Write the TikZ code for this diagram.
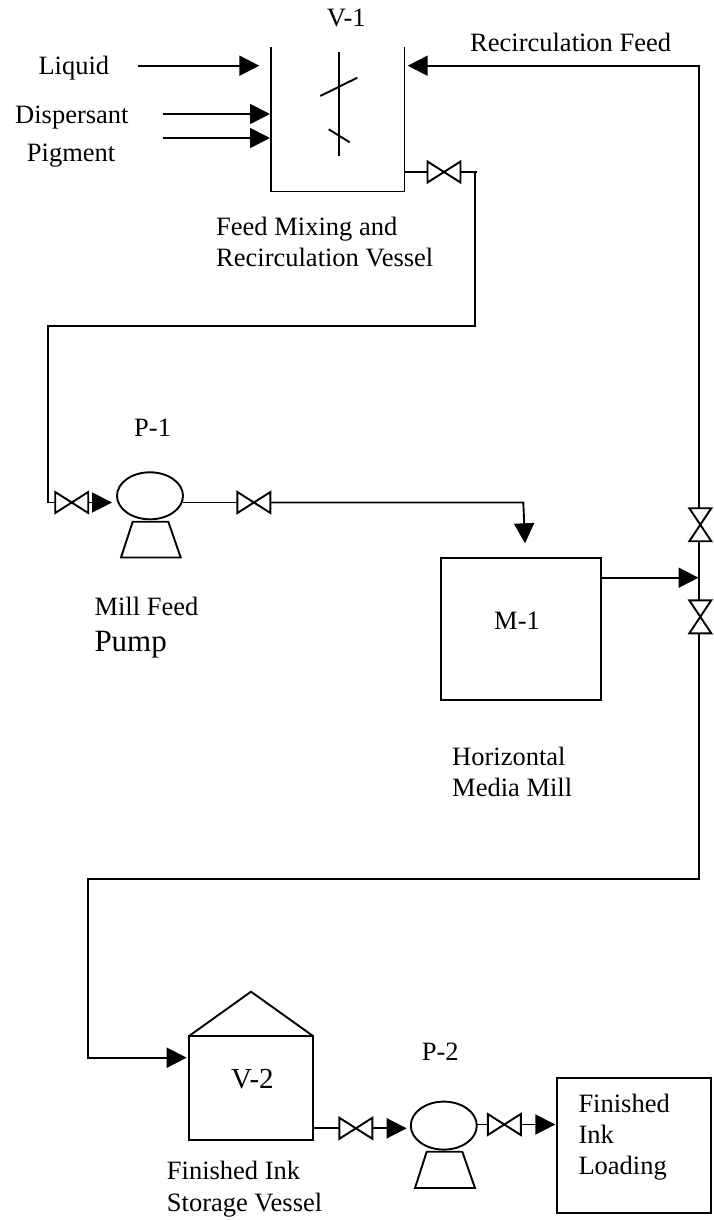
\documentclass[tikz,border=0pt]{standalone}
\usepackage{fontspec}
\setmainfont{Liberation Serif}
\usetikzlibrary{arrows.meta,shapes.geometric}
\tikzset{
  pipe/.style={draw=black,line width=1.9pt,line join=miter},
  flow/.style={pipe,-{Triangle[length=20pt,width=20pt]}},
  lab/.style={anchor=base west,inner sep=0pt,font=\fontsize{26.5}{30}\selectfont},
  labbig/.style={anchor=base west,inner sep=0pt,font=\fontsize{31}{34}\selectfont},
  labmid/.style={anchor=base west,inner sep=0pt,font=\fontsize{29}{32}\selectfont},
  valvebox/.style={inner sep=0pt,outer sep=0pt,minimum width=33pt,minimum height=21pt},
  valveboxv/.style={inner sep=0pt,outer sep=0pt,minimum width=22pt,minimum height=33pt},
  pumpbody/.style={ellipse,pipe,inner sep=0pt,outer sep=0pt,minimum width=66pt,minimum height=47pt},
  equip/.style={rectangle,pipe,inner sep=0pt,outer sep=0pt}
}
\newcommand{\valveh}[3]{\node[valvebox] (#1) at (#2,#3) {};
  \draw[pipe] (#1.north west) -- (#1.south east) -- (#1.north east) -- (#1.south west) -- cycle;}
\newcommand{\valvev}[3]{\node[valveboxv] (#1) at (#2,#3) {};
  \draw[pipe] (#1.north west) -- (#1.north east) -- (#1.south west) -- (#1.south east) -- cycle;}
\begin{document}
\begin{tikzpicture}[x=1pt,y=-1pt]
\useasboundingbox (0,0) rectangle (714,1220);
% V-1
\coordinate (v1tl) at (270.7,47);
\coordinate (v1bl) at (270.7,191.5);
\coordinate (v1br) at (404.5,191.5);
\coordinate (v1tr) at (404.5,47);
\draw[pipe] (v1tl) -- (v1bl) -- (v1br) -- (v1tr);
\coordinate (sh1) at (338.7,51.7); \coordinate (sh2) at (338.7,155.7);
\draw[pipe] (sh1) -- (sh2);
\coordinate (b1a) at (320.3,96); \coordinate (b1b) at (357.3,77.7);
\draw[pipe] (b1a) -- (b1b);
\coordinate (b2a) at (328.7,129.3); \coordinate (b2b) at (349.7,142.3);
\draw[pipe] (b2a) -- (b2b);
% feed labels and arrows
\node[lab] (tv1) at (326.7,26.7) {V-1};
\node[lab] (trf) at (470,51.7) {Recirculation Feed};
\node[lab] (tliq) at (38.3,75) {Liquid};
\node[lab] (tdis) at (15,123.3) {Dispersant};
\node[lab] (tpig) at (26.7,161) {Pigment};
\node[lab] (tfm) at (216,235) {Feed Mixing and};
\node[lab] (trv) at (216,266.7) {Recirculation Vessel};
\coordinate (liqs) at (138.3,65.7); \coordinate (liqe) at (259.3,65.7);
\draw[flow] (liqs) -- (liqe);
\coordinate (diss) at (163,114); \coordinate (dise) at (270,114);
\draw[flow] (diss) -- (dise);
\coordinate (pigs) at (163,138); \coordinate (pige) at (270,138);
\draw[flow] (pigs) -- (pige);
% valves
\valveh{va}{444}{172}
\valveh{vb}{71.7}{502.5}
\valveh{vc}{253.9}{502.5}
\valvev{vd}{700.3}{524.7}
\valvev{ve}{700.3}{616.8}
\valveh{vf}{355.9}{1128.3}
\valveh{vg}{504.3}{1124.5}
% outlet of V-1 to P-1
\coordinate (v1out) at (404.5,172);
\draw[pipe] (v1out) -- (va.west);
\coordinate (j1) at (475.3,172);
\coordinate (j1x) at (477.3,172);
\draw[pipe] (va.east) -- (j1x);
\coordinate (j2) at (475.3,326);
\coordinate (j3) at (48.3,326);
\coordinate (j4) at (48.3,502.5);
\draw[pipe] (j1) -- (j2) -- (j3) -- (j4) -- (vb.west);
% P-1
\node[pumpbody] (p1) at (150,495.8) {};
\coordinate (p1a) at (132.7,521.7); \coordinate (p1b) at (168.3,521.7);
\coordinate (p1c) at (180.7,557.5); \coordinate (p1d) at (121,557.5);
\draw[pipe] (p1a) -- (p1b) -- (p1c) -- (p1d) -- cycle;
\coordinate (p1in) at (112,502.5);
\draw[flow] (vb.east) -- (p1in);
\coordinate (p1out) at (183,502.5);
\draw[pipe] (p1out) -- (vc.west);
\node[lab] (tp1) at (134,436.7) {P-1};
\node[lab] (tmf) at (94.3,615) {Mill Feed};
\node[labbig] (tpu) at (94.3,651.7) {Pump};
% M-1
\node[equip,minimum width=160.3pt,minimum height=142.3pt] (m1) at (521.2,628.8) {};
\node[lab] (tm1) at (494,629) {M-1};
\node[lab] (thz) at (452,765) {Horizontal};
\node[lab] (tmm) at (452,796) {Media Mill};
\coordinate (m1bend) at (523.3,502.5);
\coordinate (m1in) at (525,543.3);
\draw[flow] (vc.east) -- (m1bend) -- (m1in);
\coordinate (m1out) at (m1.east |- 0,577.7);
\coordinate (junc) at (698.5,577.7);
\draw[flow] (m1out) -- (junc);
% main vertical
\coordinate (rtop) at (699,65.7);
\coordinate (rtip) at (407.7,65.7);
\draw[flow] (vd.north -| rtop) -- (rtop) -- (rtip);
\draw[pipe] (vd.south -| rtop) -- (ve.north -| rtop);
\coordinate (l1) at (699,879.3);
\coordinate (l2) at (88,879.3);
\coordinate (l3) at (88,1057.7);
\coordinate (v2in) at (186.7,1057.7);
\draw[flow] (ve.south -| rtop) -- (l1) -- (l2) -- (l3) -- (v2in);
% V-2
\node[equip,minimum width=124pt,minimum height=104pt] (v2) at (251,1088) {};
\coordinate (apex) at (251,991.7);
\draw[pipe] (v2.north west) -- (apex) -- (v2.north east);
\node[labmid] (tv2) at (231,1088.3) {V-2};
\node[lab] (tfi) at (166.7,1179) {Finished Ink};
\node[lab] (tsv) at (166.7,1211) {Storage Vessel};
\coordinate (v2out) at (v2.east |- 0,1128.3);
\draw[pipe] (v2out) -- (vf.west);
% P-2
\node[pumpbody,minimum width=66pt,minimum height=48pt] (p2) at (443.8,1125.6) {};
\coordinate (p2a) at (426.7,1151.7); \coordinate (p2b) at (462.3,1151.7);
\coordinate (p2c) at (475,1188); \coordinate (p2d) at (415,1188);
\draw[pipe] (p2a) -- (p2b) -- (p2c) -- (p2d) -- cycle;
\coordinate (p2in) at (406.7,1128.3);
\draw[flow] (vf.east) -- (p2in);
\coordinate (p2out) at (p2.east |- 0,1124.5);
\draw[pipe] (p2out) -- (vg.west);
\node[lab] (tp2) at (421.7,1060) {P-2};
% loading box
\node[equip,minimum width=154.3pt,minimum height=134.7pt] (box) at (634.2,1145.7) {};
\node[lab] (tf1) at (578.3,1112.3) {Finished};
\node[lab] (tf2) at (578.3,1143.3) {Ink};
\node[lab] (tf3) at (578.3,1174.3) {Loading};
\coordinate (boxin) at (555.3,1124.5);
\draw[flow] (vg.east) -- (boxin);
\end{tikzpicture}
\end{document}
